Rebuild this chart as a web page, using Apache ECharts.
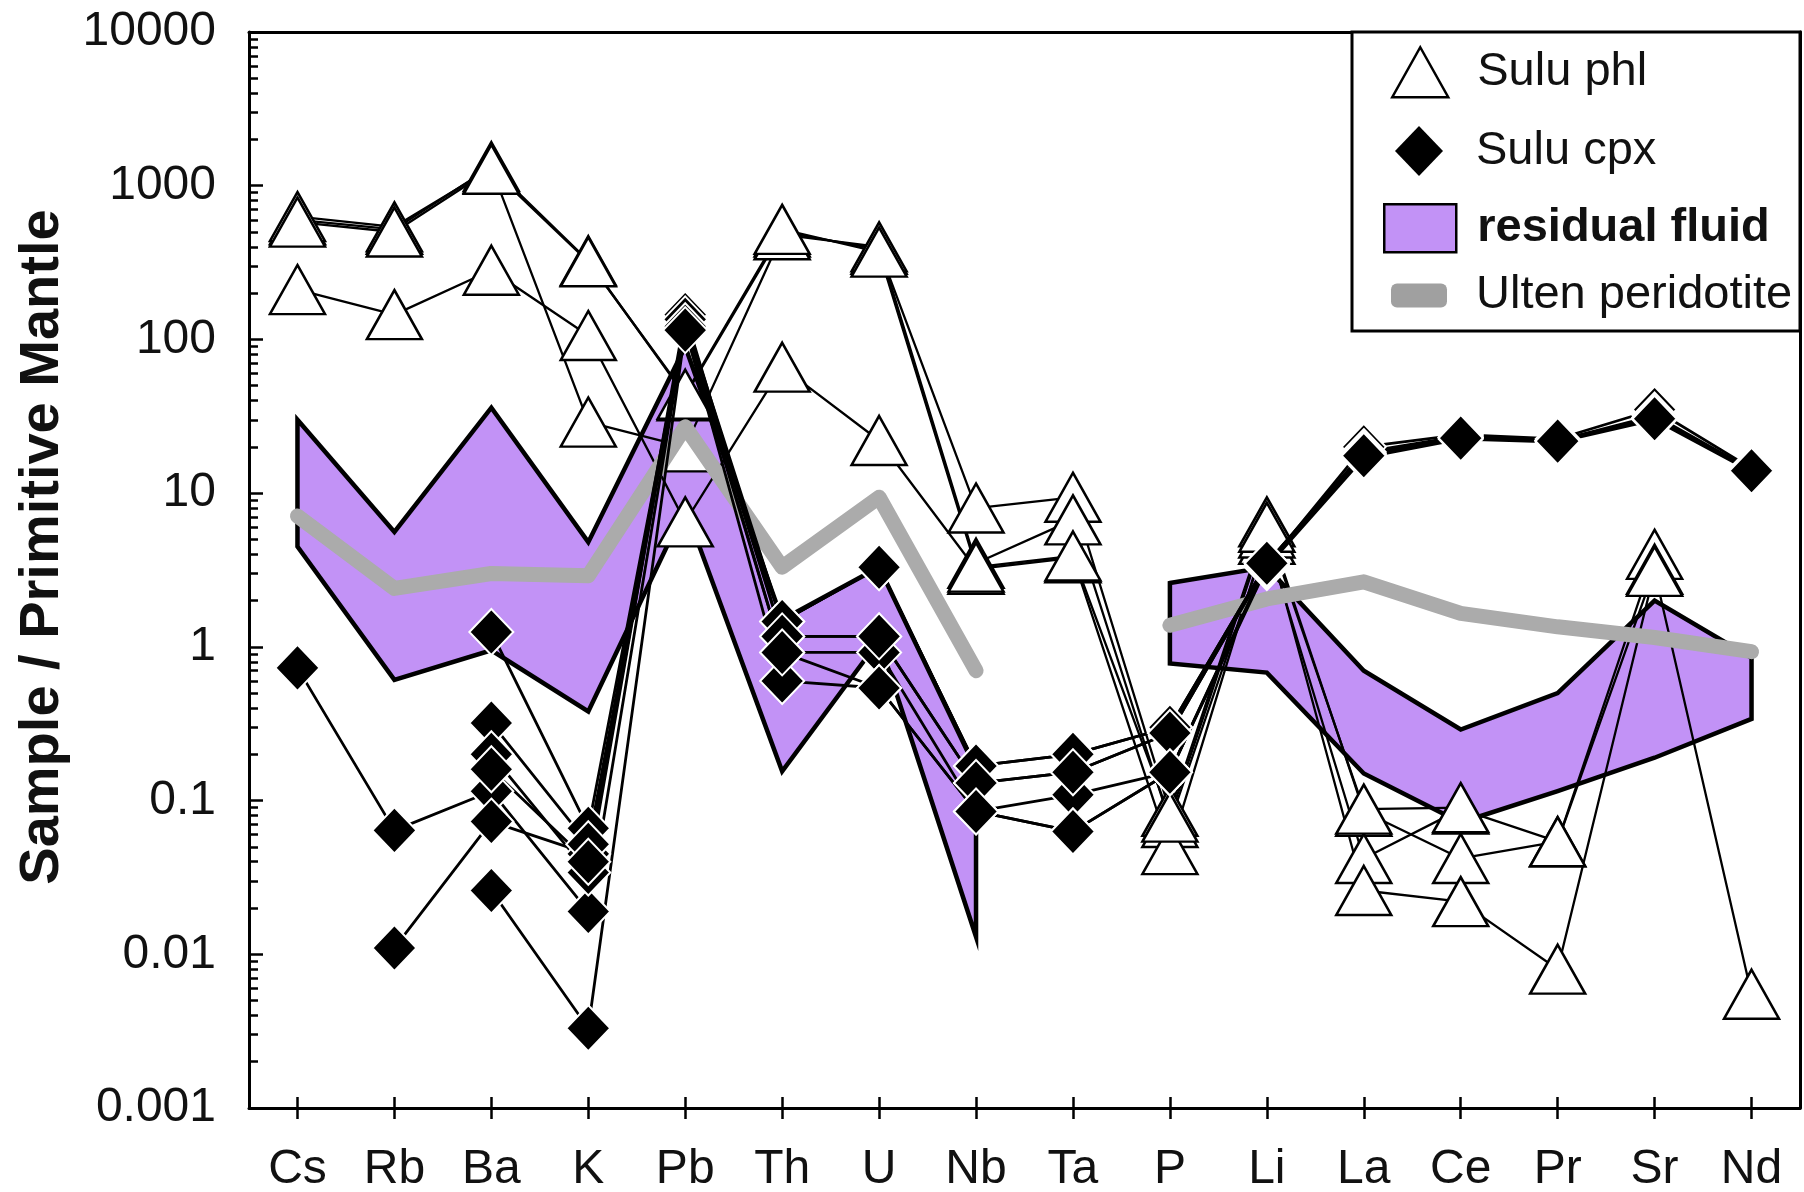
<!DOCTYPE html>
<html>
<head>
<meta charset="utf-8">
<script src="https://cdn.jsdelivr.net/npm/echarts@6/dist/echarts.min.js"></script>
<style>
html,body{margin:0;padding:0;background:#fff;}
#chart{width:1804px;height:1192px;}
</style>
</head>
<body>
<div id="chart"></div>
<script>
// ---------------- data ----------------
const elements = ['Cs','Rb','Ba','K','Pb','Th','U','Nb','Ta','P','Li','La','Ce','Pr','Sr','Nd'];
const yTickLabels = ['0.001','0.01','0.1','1','10','100','1000','10000'];

// Sulu phlogopite samples (open triangles)
const phlA = [600, 520, 1330, 325, 43, 500, 385, 8.0, 9.4, 0.085, 6.5, 0.085, 0.042, 0.054, 4.0, null];
const phlB = [630, 540, 1300, 29, 20, 480, 400, 3.5, 6.7, 0.072, 5.0, 0.042, 0.088, 0.054, 3.2, null];
const phlC = [211, 145, 282, 106, 6.5, 66, 22, 3.2, 3.8, 0.048, 5.5, 0.026, 0.022, 0.008, 3.1, 0.0055];
const phlD = [580, 500, 1280, 320, 44, 520, 370, 3.3, 3.9, 0.078, 6.0, 0.088, 0.09, null, null, null];

// Sulu clinopyroxene samples (filled diamonds)
const cpxA = [0.73, 0.064, 0.115, 0.019, 120, 1.46, 3.3, 0.168, 0.2, 0.3, 3.5, 18, 23, 22, 31, 14];
const cpxB = [null, 0.011, 0.073, 0.045, 145, 1.17, 1.17, 0.13, 0.153, 0.275, 3.4, 20, 24, 22.5, 35, 14.5];
const cpxC = [null, null, 1.25, 0.066, 125, 0.92, 0.92, 0.085, 0.109, 0.153, 3.3, 17, 22.5, 21.5, 30, 13.8];
const cpxD = [null, null, 0.32, 0.052, 118, 0.6, 0.54, 0.085, 0.063, 0.153, 3.4, 17.5, 23, 21.8, 31, 14];
const cpxE = [null, null, 0.2, 0.034, 135, 1.46, 3.3, 0.168, 0.2, 0.3, 3.5, 18.5, 23.5, 22, 32, 14.2];
const cpxF = [null, null, 0.16, 0.04, 122, 1.17, 1.17, 0.13, 0.153, 0.275, 3.4, 18, 23, 22, 31, 14];
const cpxG = [null, null, 0.026, 0.0033, 115, 0.92, 0.54, 0.085, 0.063, 0.153, 3.5, 17.5, 22.8, 21.8, 30.5, 14];

// residual fluid envelope
const fluidUpper = [30, 5.6, 36, 4.8, 90, 1.5, 3.3, 0.16, null, 2.6, 3.3, 0.7, 0.29, 0.5, 2.0, 0.85];
const fluidLower = [4.5, 0.61, 0.95, 0.38, 8, 0.155, 1.1, 0.013, null, 0.78, 0.68, 0.15, 0.072, 0.115, 0.19, 0.34];

// Ulten peridotite
const ulten = [7.1, 2.4, 3.0, 2.9, 27, 3.3, 9.4, 0.7, null, 1.38, 2.05, 2.65, 1.65, 1.35, 1.15, 0.93];

// ---------------- styling ----------------
const FONT = '"Liberation Sans", Arial, Helvetica, sans-serif';
const FLUID = '#C292F6';
const GRAY = '#ABABAB';

const phlSamples = [phlA, phlB, phlC, phlD];
const cpxSamples = [cpxA, cpxB, cpxC, cpxD, cpxE, cpxF, cpxG];

// contiguous segments of the envelope (split where values are missing)
function segments(up, lo) {
  const segs = []; let cur = null;
  up.forEach(function (u, i) {
    if (u == null || lo[i] == null) { if (cur) { segs.push(cur); cur = null; } }
    else { if (!cur) cur = [i, 1, i]; cur[2] = i; }
  });
  if (cur) segs.push(cur);
  return segs;
}

// minor log ticks 2..9 within each decade of the axis
const minorTickValues = [];
for (let k = -3; k < 4; k++) for (let m = 2; m <= 9; m++) minorTickValues.push(m * Math.pow(10, k));

const series = [];

series.push({
  name: 'residual fluid',
  type: 'custom',
  coordinateSystem: 'cartesian2d',
  z: 1, silent: true, clip: false,
  encode: { x: 0, y: 1 },
  data: segments(fluidUpper, fluidLower),
  itemStyle: { color: FLUID },
  renderItem: function (params, api) {
    const s = api.value(0), e = api.value(2);
    const pts = [];
    for (let i = s; i <= e; i++) pts.push(api.coord([i, fluidUpper[i]]));
    for (let i = e; i >= s; i--) pts.push(api.coord([i, fluidLower[i]]));
    return { type: 'polygon', shape: { points: pts },
      style: { fill: FLUID, stroke: '#000', lineWidth: 4.5, lineJoin: 'miter' } };
  }
});

phlSamples.forEach(function (d) {
  series.push({
    name: 'Sulu phl', type: 'line', data: d, z: 2, silent: true,
    symbol: 'triangle', symbolSize: [55, 49], showAllSymbol: true,
    itemStyle: { color: '#fff', borderColor: '#000', borderWidth: 2.5 },
    lineStyle: { color: '#000', width: 2.3 },
    emphasis: { disabled: true }
  });
});

series.push({
  name: 'Ulten peridotite', type: 'line', data: ulten, z: 3, silent: true,
  symbol: 'none', connectNulls: false,
  lineStyle: { color: GRAY, width: 15, cap: 'round', join: 'round' },
  emphasis: { disabled: true }
});

cpxSamples.forEach(function (d) {
  series.push({
    name: 'Sulu cpx', type: 'line', data: d, z: 4, silent: true,
    symbol: 'diamond', symbolSize: [44, 46], showAllSymbol: true,
    itemStyle: { color: '#000', borderColor: '#fff', borderWidth: 2 },
    lineStyle: { color: '#000', width: 2.8 },
    emphasis: { disabled: true }
  });
});

function legendBox(name, icon, w, h, left, top, pad, style, textExtra) {
  return {
    show: true, orient: 'vertical', left: left, top: top, padding: 0, z: 10,
    selectedMode: false, itemWidth: w, itemHeight: h,
    data: [{ name: name, icon: icon, itemStyle: style,
      textStyle: Object.assign({ fontSize: 47, fontFamily: FONT, color: '#111', padding: [0, 0, 0, pad] }, textExtra || {}) }]
  };
}

const frameLine = { show: true, lineStyle: { color: '#000', width: 3 } };

const option = {
  animation: false,
  backgroundColor: '#fff',
  grid: { left: 249, right: 4, top: 32, bottom: 84, show: false,
          containLabel: false, outerBoundsMode: 'none' },
  xAxis: [
    { type: 'category', data: elements, boundaryGap: true, position: 'bottom', z: 8,
      axisLine: frameLine,
      axisTick: { show: true, alignWithLabel: true, length: 11, lineStyle: { color: '#000', width: 2.5 } },
      axisLabel: { fontSize: 48, fontFamily: FONT, color: '#111', margin: 38 },
      splitLine: { show: false } },
    { type: 'category', data: elements, boundaryGap: true, position: 'bottom', z: 8,
      axisLine: { show: false },
      axisTick: { show: true, inside: true, alignWithLabel: true, length: 11, lineStyle: { color: '#000', width: 2.5 } },
      axisLabel: { show: false }, splitLine: { show: false } },
    { type: 'category', data: elements, boundaryGap: true, position: 'top', z: 8,
      axisLine: frameLine, axisTick: { show: false }, axisLabel: { show: false }, splitLine: { show: false } }
  ],
  yAxis: [
    { type: 'log', logBase: 10, min: 0.001, max: 10000, position: 'left', z: 8,
      axisLine: frameLine,
      axisTick: { show: true, inside: true, length: 14, lineStyle: { color: '#000', width: 2.5 } },
      minorTick: { show: false },
      axisLabel: { fontSize: 48, fontFamily: FONT, color: '#111', margin: 33,
        formatter: function (v) { return yTickLabels[Math.round(Math.log10(v)) + 3]; } },
      splitLine: { show: false } },
    { type: 'log', logBase: 10, min: 0.001, max: 10000, position: 'left', z: 8,
      axisLine: { show: false },
      axisTick: { show: true, inside: true, length: 9, customValues: minorTickValues,
                  lineStyle: { color: '#000', width: 2.5 } },
      axisLabel: { show: false }, splitLine: { show: false } },
    { type: 'log', logBase: 10, min: 0.001, max: 10000, position: 'right', z: 8,
      axisLine: frameLine, axisTick: { show: false }, axisLabel: { show: false }, splitLine: { show: false } }
  ],
  legend: [
    legendBox('Sulu phl', 'triangle', 56, 50, 1391, 46, 24,
      { color: '#fff', borderColor: '#000', borderWidth: 2.5 }),
    legendBox('Sulu cpx', 'diamond', 48, 50, 1395, 126, 28,
      { color: '#000', borderColor: '#000', borderWidth: 0 }),
    legendBox('residual fluid', 'rect', 72, 48, 1383, 203, 16,
      { color: FLUID, borderColor: '#000', borderWidth: 2.5 }, { fontWeight: 'bold' }),
    legendBox('Ulten peridotite', 'roundRect', 56, 24, 1391, 272, 24,
      { color: '#A0A0A0', borderColor: '#A0A0A0', borderWidth: 0 })
  ],
  graphic: [
    { type: 'rect', z: 9, shape: { x: 1352, y: 32, width: 448, height: 299 },
      style: { fill: '#fff', stroke: '#000', lineWidth: 3 } },
    { type: 'text', x: 43, y: 547, rotation: Math.PI / 2,
      style: { text: 'Sample / Primitive Mantle', fontSize: 56, fontWeight: 'bold', fontFamily: FONT,
               fill: '#111', align: 'center', verticalAlign: 'middle' } }
  ],
  series: series
};

const chart = echarts.init(document.getElementById('chart'), null, { renderer: 'canvas' });
chart.setOption(option);
</script>
</body>
</html>
